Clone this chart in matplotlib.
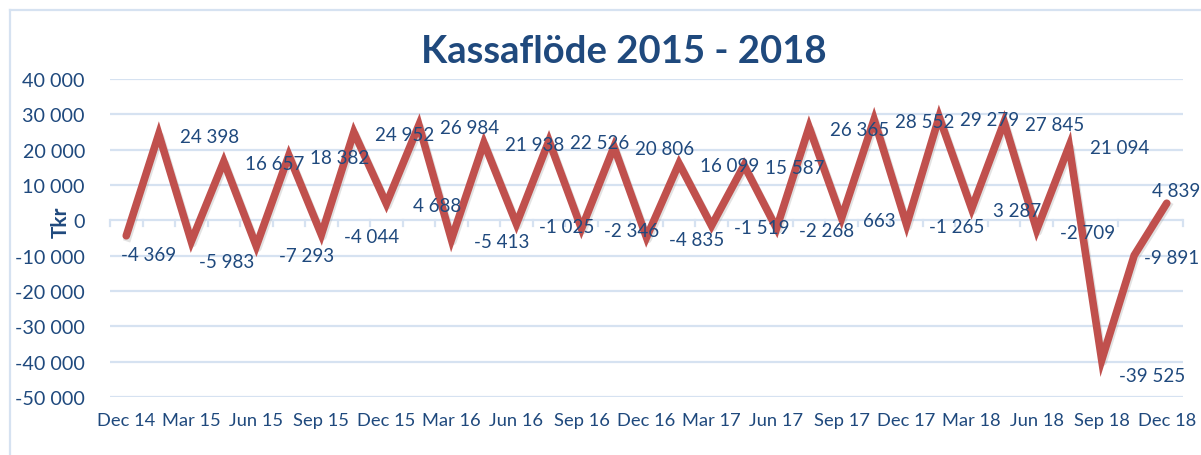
import numpy as np
import matplotlib.pyplot as plt
from matplotlib.lines import Line2D
from matplotlib.transforms import ScaledTranslation

# Kassaflöde per period (Tkr)
values = [-4369, 24398, -5983, 16657, -7293, 18382, -4044, 24952, 4688, 26984,
          -5413, 21938, -1025, 22526, -2346, 20806, -4835, 16099, -1519, 15587,
          -2268, 26365, 663, 28552, -1265, 29279, 3287, 27845, -2709, 21094,
          -39525, -9891, 4839]
quarter_labels = ['Dec 14', 'Mar 15', 'Jun 15', 'Sep 15', 'Dec 15', 'Mar 16',
                  'Jun 16', 'Sep 16', 'Dec 16', 'Mar 17', 'Jun 17', 'Sep 17',
                  'Dec 17', 'Mar 18', 'Jun 18', 'Sep 18', 'Dec 18']
yticks = [40000, 30000, 20000, 10000, 0, -10000, -20000, -30000, -40000, -50000]

text_col = '#1F497D'
grid_col = '#D6E2F1'
line_col = '#C0504D'

plt.rcParams['font.family'] = ['Lato', 'DejaVu Sans']

fig = plt.figure(figsize=(12.01, 4.56), dpi=100)
ax = fig.add_axes([110 / 1201, 1 - 398 / 456, (1183 - 110) / 1201, (398 - 80) / 456])

x = np.arange(len(values))
shadow = ax.transData + ScaledTranslation(1.5 / 100, -2.0 / 100, fig.dpi_scale_trans)
ax.plot(x, values, color='#8f8f8f', lw=5.5, alpha=0.25, zorder=2, transform=shadow)
ax.plot(x, values, color=line_col, lw=5.5, solid_joinstyle='miter',
        solid_capstyle='round', zorder=3)

ax.set_xlim(-0.5, len(values) - 0.5)
ax.set_ylim(-50000, 40000)

# gridlines
for yv in yticks:
    ax.axhline(yv, color=grid_col, lw=1.6, zorder=1)

# category axis at zero with tick marks
for b in np.arange(-0.5, len(values), 1.0):
    ax.plot([b, b], [0, -1700], color=grid_col, lw=1.6, zorder=1, clip_on=False)

ax.set_yticks(yticks)
ax.set_yticklabels([f'{v:,}'.replace(',', ' ') for v in yticks])
ax.tick_params(axis='y', length=0, pad=18, labelsize=14.2, labelcolor=text_col)
ax.set_xticks(x[::2])
ax.set_xticklabels(quarter_labels)
ax.tick_params(axis='x', length=0, pad=11, labelsize=13.2, labelcolor=text_col)
for s in ax.spines.values():
    s.set_visible(False)

# data labels (placed to the right of each point)
dx_special = {0: 0.7, 2: 1.1, 22: 1.15, 26: 1.4, 31: 1.15, 32: 0.3}
dy_special = {0: -5300, 2: -5800, 4: -2600, 30: -4500, 32: 3700}
for i, v in enumerate(values):
    dx = dx_special.get(i, 1.55)
    dy = dy_special.get(i, -600)
    ax.text(i + dx, v + dy, f'{v:,}'.replace(',', ' '), ha='center', va='center',
            fontsize=13.5, color=text_col, zorder=4, clip_on=False)

fig.text(624 / 1201, 1 - 52 / 456, 'Kassaflöde 2015 - 2018', ha='center', va='center',
         fontsize=27.5, fontweight='bold', color=text_col)
fig.text(61 / 1201, 1 - 222 / 456, 'Tkr', rotation=90, ha='center', va='center',
         fontsize=15, fontweight='bold', color=text_col)

# chart area border (top and left visible)
fig.add_artist(Line2D([10 / 1201, 10 / 1201], [0, 1 - 11 / 456], transform=fig.transFigure,
                      color=grid_col, lw=1.6))
fig.add_artist(Line2D([10 / 1201, 1], [1 - 11 / 456, 1 - 11 / 456], transform=fig.transFigure,
                      color=grid_col, lw=1.6))

fig.savefig('out.png', dpi=100, facecolor='white')
